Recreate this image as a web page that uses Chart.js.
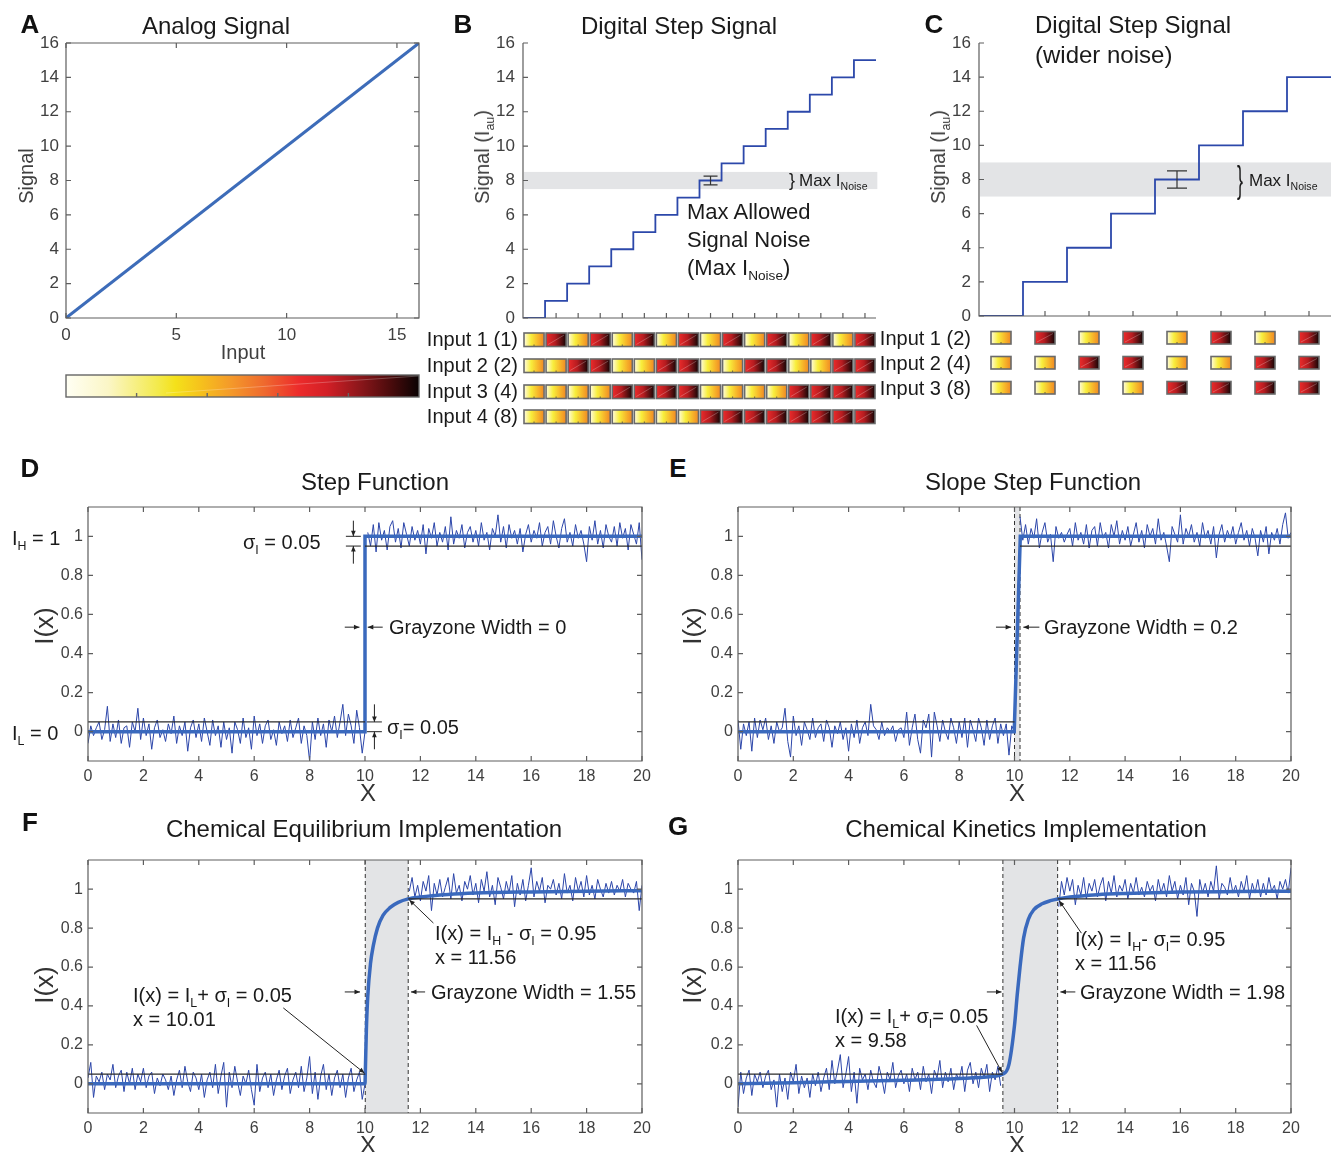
<!DOCTYPE html>
<html>
<head>
<meta charset="utf-8">
<script src="https://cdn.jsdelivr.net/npm/chart.js@4.4.1/dist/chart.umd.min.js"></script>
<style>
body { margin: 0; background: #fff; }
#fig { position: relative; width: 1331px; height: 1152px; overflow: hidden; font-family: "Liberation Sans", Arial, sans-serif; color: #1a1a1a; }
#fig canvas { position: absolute; }
.t { position: absolute; white-space: nowrap; line-height: 1; }
.t sub { font-size: 0.62em; vertical-align: -0.38em; line-height: 0; }
.lt { font-weight: bold; font-size: 26px; color: #111; }
.ttl { font-size: 24px; }
.ax { font-size: 20px; color: #404040; }
.axb { font-size: 26px; color: #333; }
.xl { font-size: 24px; color: #333; }
.ann { font-size: 20px; }
.big { font-size: 22px; }
.sm { font-size: 17px; }
.inp { font-size: 20px; }
.brace { font-size: 18px; font-weight: 300; }
</style>
</head>
<body>
<div id="fig"></div>
<script>
// ---------- data ----------
// A: analog response
const analogX = [0, 16];
const analogY = [0, 16];
const colorbarTicks = [3.2, 6.4, 9.6, 12.8];
const cmapStops = [[0, '#fffff4'], [0.12, '#fbf6c6'], [0.26, '#f3ea4c'], [0.31, '#f4e11a'], [0.38, '#f6c21c'],
  [0.47, '#f4982a'], [0.56, '#ef6a2e'], [0.66, '#ec2b2b'], [0.74, '#d21f26'], [0.83, '#8e171b'], [0.92, '#4a0b0c'], [1, '#0a0303']];

// B: digital step signal, 16 levels
const stepBX = [0, 1, 2, 3, 4, 5, 6, 7, 8, 9, 10, 11, 12, 13, 14, 15, 16];
const stepBY = [0, 1, 2, 3, 4, 5, 6, 7, 8, 9, 10, 11, 12, 13, 14, 15, 15];
const xTicksB = [1.5, 2.5, 3.5, 4.5, 5.5, 6.5, 7.5, 8.5, 9.5, 10.5, 11.5, 12.5, 13.5, 14.5, 15.5];
const noiseBandB = [7.5, 8.5];
const errBarB = [8.5, 7.75, 8.25];
const inputsB = ['Input 1 (1)', 'Input 2 (2)', 'Input 3 (4)', 'Input 4 (8)'];
const bitsB = [
  [0, 1, 0, 1, 0, 1, 0, 1, 0, 1, 0, 1, 0, 1, 0, 1],
  [0, 0, 1, 1, 0, 0, 1, 1, 0, 0, 1, 1, 0, 0, 1, 1],
  [0, 0, 0, 0, 1, 1, 1, 1, 0, 0, 0, 0, 1, 1, 1, 1],
  [0, 0, 0, 0, 0, 0, 0, 0, 1, 1, 1, 1, 1, 1, 1, 1]
];

// C: digital step signal with wider noise, 8 levels
const stepCX = [0, 2, 4, 6, 8, 10, 12, 14, 16];
const stepCY = [0, 2, 4, 6, 8, 10, 12, 14, 14];
const xTicksC = [3, 5, 7, 9, 11, 13, 15];
const noiseBandC = [7, 9];
const errBarC = [9, 7.5, 8.5];
const inputsC = ['Input 1 (2)', 'Input 2 (4)', 'Input 3 (8)'];
const bitsC = [
  [0, 1, 0, 1, 0, 1, 0, 1],
  [0, 0, 1, 1, 0, 0, 1, 1],
  [0, 0, 0, 0, 1, 1, 1, 1]
];
const squareCentersC = [1, 3, 5, 7, 9, 11, 13, 15];

// shared ticks
const yTicks16 = [0, 2, 4, 6, 8, 10, 12, 14, 16];
const xTicksA = [0, 5, 10, 15];
const xTicks20 = [0, 2, 4, 6, 8, 10, 12, 14, 16, 18, 20];
const yTicks01 = [0, 0.2, 0.4, 0.6, 0.8, 1];

// D-G: ideal / fitted curves
const stepDX = [0, 10, 10, 20];
const stepDY = [0, 0, 1, 1];
const slopeEX = [0, 9.99, 10.21, 20];
const slopeEY = [0, 0, 1, 1];
const equilFX = [0, 10, 10.01, 10.05, 10.1, 10.2, 10.3, 10.45, 10.65, 10.9, 11.2, 11.56, 12, 13, 14, 16, 18, 20];
const equilFY = [0, 0, 0.05, 0.28, 0.45, 0.62, 0.71, 0.8, 0.865, 0.905, 0.932, 0.95, 0.96, 0.973, 0.98, 0.986, 0.99, 0.992];
const kinetGX = [0, 2, 4, 6, 8, 9, 9.58, 9.8, 10, 10.1, 10.2, 10.33, 10.5, 10.7, 11, 11.3, 11.56, 12, 13, 14, 16, 18, 20];
const kinetGY = [0, 0.006, 0.012, 0.018, 0.027, 0.035, 0.05, 0.1, 0.3, 0.46, 0.6, 0.75, 0.845, 0.895, 0.925, 0.941, 0.95, 0.96, 0.972, 0.978, 0.985, 0.988, 0.99];

// sigma lines (I_L + sigma, I_H - sigma) and grayzones
const lowLineD = [0, 10], highLineD = [10, 20];
const lowLineE = [0, 10], highLineE = [10.2, 20], zoneE = [10, 10.2];
const lowLineF = [0, 10.01], highLineF = [11.56, 20], zoneF = [10.01, 11.56];
const lowLineG = [0, 9.58], highLineG = [11.56, 20], zoneG = [9.58, 11.56];

// noisy samples, x step 0.1
const noiseDLow = [
  -0.06, 0.03, -0.02, 0.02, 0.05, -0.04, 0.01, 0.13, -0.05, 0.04,
  -0.03, 0.06, -0.06, 0.02, 0.03, -0.08, 0.05, 0.00, 0.12, -0.04,
  0.07, -0.02, 0.04, -0.09, 0.02, 0.06, -0.03, 0.01, -0.05, 0.04,
  -0.01, 0.08, -0.06, 0.03, -0.02, 0.05, -0.10, 0.02, 0.06, -0.03,
  0.04, -0.05, 0.07, 0.00, -0.07, 0.06, -0.02, 0.03, -0.08, 0.05,
  -0.04, 0.02, -0.11, 0.05, 0.01, -0.06, 0.07, -0.03, 0.02, -0.09,
  0.08, -0.02, 0.04, -0.06, 0.03, 0.06, -0.04, 0.01, -0.07, 0.05,
  -0.01, 0.03, -0.05, 0.06, -0.03, 0.02, 0.07, -0.06, 0.03, -0.02,
  -0.15, 0.05, -0.04, 0.07, -0.02, 0.04, -0.08, 0.06, 0.00, 0.08,
  -0.03, 0.05, 0.14, -0.02, 0.09, 0.03, -0.06, 0.11, 0.02, -0.11,
  0.00];
const noiseDHigh = [
  1.02, 0.95, 1.06, 0.92, 1.07, 0.98, 1.03, 0.93, 1.05,
  1.08, 0.97, 1.04, 0.94, 1.07, 1.01, 0.95, 1.05, 0.98, 1.03,
  0.96, 1.06, 0.91, 1.04, 0.99, 1.07, 0.95, 1.02, 0.97, 1.05,
  0.93, 1.10, 0.96, 1.03, 0.99, 1.06, 0.94, 1.02, 1.05, 0.97,
  1.03, 0.95, 1.07, 0.98, 1.02, 0.93, 1.04, 1.00, 1.11, 0.97,
  1.05, 0.94, 1.06, 0.99, 1.03, 0.96, 1.04, 0.92, 1.01, 1.06,
  0.97, 1.03, 0.99, 1.07, 0.95, 1.02, 1.05, 0.96, 1.08, 1.00,
  0.94, 1.04, 1.09, 0.97, 1.02, 0.95, 1.06, 0.99, 1.03, 0.96,
  0.87, 1.05, 0.98, 1.08, 0.96, 1.03, 0.94, 1.06, 1.00, 0.97,
  1.05, 0.95, 1.07, 0.99, 1.04, 0.93, 1.06, 1.01, 0.96, 1.07,
  0.88];
const noiseELow = [
  0.06, -0.09, 0.04, -0.02, 0.05, -0.10, 0.07, -0.03, 0.06, 0.01,
  0.07, -0.04, 0.03, -0.06, 0.05, 0.00, 0.02, 0.12, -0.05, -0.13,
  0.08, -0.02, 0.03, -0.07, 0.05, 0.01, -0.04, 0.07, -0.03, 0.02,
  0.04, -0.05, 0.06, 0.02, -0.08, 0.03, -0.01, 0.05, -0.04, 0.02,
  -0.10, 0.04, -0.03, 0.06, -0.06, 0.02, 0.05, -0.02, 0.14, 0.03,
  0.01, -0.04, 0.05, -0.02, 0.02, 0.00, 0.03, -0.05, 0.01, 0.02,
  -0.03, 0.10, -0.07, 0.02, 0.09, -0.04, -0.11, 0.06, 0.02, 0.09,
  -0.13, 0.10, 0.03, -0.05, 0.06, 0.00, -0.04, 0.07, 0.02, -0.06,
  0.05, -0.03, 0.07, -0.08, 0.06, 0.01, -0.05, 0.07, 0.02, -0.07,
  0.06, -0.04, 0.03, 0.07, -0.06, 0.04, -0.02, 0.04, -0.12, 0.03,
  0.00];
const noiseEHigh = [
  1.10, 0.98, 1.06, 0.96, 1.04, 0.99, 1.09, 0.94,
  1.02, 1.07, 0.97, 1.01, 0.87, 1.05, 0.99, 1.02, 0.97, 1.01,
  1.04, 0.95, 1.07, 0.98, 1.02, 0.96, 1.06, 0.94, 1.03, 1.05,
  0.95, 1.07, 0.99, 1.02, 0.94, 1.06, 1.00, 1.08, 0.96, 1.03,
  0.98, 1.05, 0.95, 1.01, 1.07, 0.97, 1.03, 0.94, 1.06, 1.00,
  1.04, 0.96, 1.09, 0.98, 1.02, 0.95, 0.87, 1.05, 1.01, 0.97,
  1.11, 0.96, 1.04, 1.00, 1.06, 0.97, 1.02, 0.95, 1.07, 0.99,
  1.03, 0.96, 1.05, 0.89, 1.01, 1.06, 0.97, 1.03, 0.99, 1.05,
  0.96, 1.02, 1.07, 0.98, 1.03, 0.95, 1.04, 0.99, 0.90, 1.03,
  0.97, 1.05, 0.91, 1.02, 0.98, 1.04, 0.96, 1.06, 1.12, 0.99,
  1.02];
const noiseFLow = [
  0.03, 0.11, -0.07, 0.04, 0.01, 0.06, -0.03, 0.05, 0.02, 0.10,
  -0.02, 0.04, 0.07, -0.04, 0.06, 0.00, 0.08, -0.03, 0.05, 0.01,
  0.08, -0.02, 0.04, 0.06, -0.05, 0.03, -0.01, 0.05, 0.02, -0.03,
  0.04, -0.06, 0.02, 0.07, -0.02, 0.09, 0.01, -0.04, 0.06, 0.03,
  -0.03, 0.05, -0.07, 0.02, 0.06, -0.02, 0.10, -0.05, 0.04, 0.11,
  -0.12, 0.06, -0.02, 0.09, 0.01, -0.06, 0.04, 0.00, 0.07, -0.03,
  -0.11, 0.10, -0.04, 0.03, 0.06, -0.02, 0.05, -0.06, 0.02, 0.07,
  -0.03, 0.04, 0.08, -0.05, 0.02, 0.06, -0.02, 0.09, -0.04, 0.03,
  0.14, -0.05, 0.06, -0.08, 0.04, 0.10, -0.03, 0.05, -0.06, 0.03,
  0.07, -0.02, 0.05, -0.07, 0.03, 0.08, -0.04, 0.02, 0.06, -0.08,
  0.00];
const noiseFHigh = [
  0.99, 1.06, 0.96, 1.02,
  0.94, 1.04, 0.99, 1.07, 0.89, 1.03, 0.97, 1.05, 0.96, 1.01,
  1.06, 0.95, 1.08, 0.98, 1.02, 0.94, 1.04, 1.00, 1.07, 0.97,
  1.03, 0.93, 1.05, 0.99, 1.09, 0.96, 1.02, 0.92, 1.06, 1.01,
  0.95, 1.04, 0.98, 1.07, 0.91, 1.03, 0.97, 1.05, 0.94, 1.02,
  1.11, 0.96, 1.04, 0.99, 1.06, 0.93, 1.02, 1.00, 1.05, 0.97,
  1.03, 0.95, 1.08, 0.98, 1.02, 0.94, 1.06, 0.99, 1.04, 0.96,
  1.07, 0.97, 1.02, 0.95, 1.05, 1.00, 0.96, 1.03, 0.98, 1.04,
  0.97, 1.02, 0.99, 1.05, 0.96, 1.03, 1.00, 0.98, 1.04, 0.89,
  1.02];
const noiseGLow = [
  -0.12, 0.06, -0.05, 0.03, 0.07, -0.06, 0.05, 0.01, 0.06, -0.02,
  0.04, 0.07, -0.03, 0.02, -0.12, 0.05, -0.04, 0.03, -0.08, 0.06,
  0.01, 0.10, -0.05, 0.04, -0.02, 0.03, -0.07, 0.05, -0.01, 0.06,
  -0.04, 0.03, 0.08, -0.03, 0.12, 0.00, 0.07, 0.15, -0.02, 0.05,
  0.14, -0.04, 0.06, -0.10, 0.08, 0.02, 0.05, -0.03, 0.07, 0.01,
  -0.02, 0.09, 0.03, -0.05, 0.06, 0.02, 0.11, -0.02, 0.04, 0.07,
  0.00, 0.05, -0.04, 0.08, 0.02, 0.06, -0.03, 0.09, 0.01, 0.05,
  -0.05, 0.07, 0.03, 0.12, -0.02, 0.06, 0.01, 0.08, -0.03, 0.05,
  0.02, 0.09, -0.04, 0.07, 0.11, 0.00, 0.06, -0.02, 0.08, 0.03,
  0.10, -0.04, 0.06, 0.02, 0.09, -0.01];
const noiseGHigh = [
  0.91, 1.04, 0.97, 1.06,
  0.99, 1.05, 0.92, 1.02, 0.97, 1.06, 0.95, 1.03, 0.99, 1.05,
  0.96, 1.02, 1.06, 0.94, 1.04, 0.98, 1.07, 0.96, 1.02, 0.99,
  1.05, 0.95, 1.03, 0.98, 1.06, 0.97, 1.01, 0.96, 1.04, 0.99,
  1.02, 0.94, 1.05, 0.98, 1.03, 0.96, 1.07, 0.99, 1.04, 0.95,
  1.02, 0.97, 1.06, 0.92, 1.03, 0.99, 0.86, 1.05, 0.98, 1.03,
  0.96, 1.04, 0.99, 1.12, 0.95, 1.03, 1.01, 0.97, 1.06, 0.98,
  1.02, 0.96, 1.04, 0.99, 1.07, 0.95, 1.03, 0.98, 1.05, 0.96,
  1.03, 0.97, 1.06, 0.99, 1.02, 0.95, 1.04, 1.00, 1.05, 0.98,
  1.11];

// ---------- helpers ----------
const FONT = '"Liberation Sans", Arial, sans-serif';
const BLUE = '#3a69bd', NOISE = '#2b45a9', STEP = '#2c48aa', AXIS = '#5e5e5e';
const fig = document.getElementById('fig');

function xy(xs, ys) {
    return xs.map((x, i) => ({ x: x, y: ys[i] }));
}

function sampled(start, vals) {
    return vals.map((v, i) => ({ x: +(start + i * 0.1).toFixed(2), y: v }));
}

function flat(range, level) {
    return [{ x: range[0], y: level }, { x: range[1], y: level }];
}

function line(data, color, width, extra) {
    return Object.assign({ data: data, borderColor: color, borderWidth: width, pointRadius: 0, fill: false, tension: 0 }, extra || {});
}

function put(x, y, html, cls, anchor, rot) {
    const d = document.createElement('div');
    d.className = 't ' + cls;
    d.innerHTML = html;
    d.style.left = x + 'px';
    d.style.top = y + 'px';
    const tx = anchor === 'c' ? '-50%' : anchor === 'r' ? '-100%' : '0';
    d.style.transform = 'translate(' + tx + ',-50%)' + (rot ? ' rotate(-90deg)' : '');
    fig.appendChild(d);
    return d;
}

function axis(min, max, ticks, size, show, fontSize, pad) {
    return {
        type: 'linear', min: min, max: max,
        afterBuildTicks: (s) => { s.ticks = ticks.map(v => ({ value: v })); },
        afterFit: (s) => { if (s.isHorizontal()) s.height = size; else s.width = size; },
        grid: { display: false, drawTicks: false },
        border: { display: false },
        ticks: {
            display: show, autoSkip: false, maxRotation: 0, padding: pad,
            color: '#404040', font: { family: FONT, size: fontSize },
            callback: (v) => String(v)
        }
    };
}

function arrowHead(ctx, x0, y0, x1, y1, len) {
    const ang = Math.atan2(y1 - y0, x1 - x0);
    ctx.beginPath();
    ctx.moveTo(x1, y1);
    ctx.lineTo(x1 - len * Math.cos(ang - 0.4), y1 - len * Math.sin(ang - 0.4));
    ctx.lineTo(x1 - len * Math.cos(ang + 0.4), y1 - len * Math.sin(ang + 0.4));
    ctx.closePath();
    ctx.fill();
}

function drawSquare(ctx, x0, y0, w, h, dark) {
    const g = ctx.createLinearGradient(x0, 0, x0 + w, 0);
    if (dark) {
        g.addColorStop(0, '#ee2b2b'); g.addColorStop(0.45, '#b61c20'); g.addColorStop(1, '#140505');
    } else {
        g.addColorStop(0, '#fffbe2'); g.addColorStop(0.35, '#f8ee3c'); g.addColorStop(0.7, '#f7b62a'); g.addColorStop(1, '#f08824');
    }
    ctx.fillStyle = g;
    ctx.fillRect(x0, y0, w, h);
    ctx.lineWidth = 0.7;
    if (dark) {
        ctx.strokeStyle = 'rgba(255,255,255,0.35)';
        ctx.beginPath(); ctx.moveTo(x0 + 2, y0 + h - 2); ctx.lineTo(x0 + w - 2, y0 + 2); ctx.stroke();
    } else {
        ctx.strokeStyle = '#333';
        ctx.beginPath(); ctx.moveTo(x0 + w / 2, y0 + h); ctx.lineTo(x0 + w / 2, y0 + h - 2); ctx.stroke();
    }
    ctx.strokeStyle = '#6a6a6a';
    ctx.lineWidth = 1.6;
    ctx.strokeRect(x0, y0, w, h);
}

// per-panel decorations drawn through the chart scales
function decor(cfg) {
    return {
        id: 'decor',
        beforeDatasetsDraw(chart) {
            const { ctx, chartArea: a, scales: { x, y } } = chart;
            ctx.save();
            if (cfg.band) {
                const top = y.getPixelForValue(cfg.band[1]), bot = y.getPixelForValue(cfg.band[0]);
                ctx.fillStyle = '#e3e4e6';
                ctx.fillRect(a.left + 1, top, x.getPixelForValue(cfg.bandEnd) - a.left - 1, bot - top);
            }
            if (cfg.zone) {
                const p0 = x.getPixelForValue(cfg.zone[0]), p1 = x.getPixelForValue(cfg.zone[1]);
                ctx.fillStyle = '#e3e4e6';
                ctx.fillRect(p0, a.top, p1 - p0, a.bottom - a.top);
                ctx.strokeStyle = '#333';
                ctx.lineWidth = 1;
                ctx.setLineDash([4, 3]);
                [p0, p1].forEach(p => {
                    ctx.beginPath(); ctx.moveTo(p, a.top); ctx.lineTo(p, a.bottom); ctx.stroke();
                });
                ctx.setLineDash([]);
            }
            ctx.restore();
        },
        afterDatasetsDraw(chart) {
            const { ctx, chartArea: a, scales: { x, y } } = chart;
            const tl = cfg.tickLen || 5;
            ctx.save();
            // axes, MATLAB style inward ticks
            ctx.strokeStyle = AXIS;
            ctx.lineWidth = 1.2;
            ctx.beginPath();
            ctx.moveTo(a.left, a.top); ctx.lineTo(a.left, a.bottom); ctx.lineTo(a.right, a.bottom);
            if (cfg.box) { ctx.lineTo(a.right, a.top); ctx.lineTo(a.left, a.top); }
            ctx.stroke();
            ctx.beginPath();
            x.ticks.forEach(t => {
                const p = x.getPixelForValue(t.value);
                ctx.moveTo(p, a.bottom); ctx.lineTo(p, a.bottom - tl);
                if (cfg.box) { ctx.moveTo(p, a.top); ctx.lineTo(p, a.top + tl); }
            });
            y.ticks.forEach(t => {
                const p = y.getPixelForValue(t.value);
                ctx.moveTo(a.left, p); ctx.lineTo(a.left + tl, p);
                if (cfg.box) { ctx.moveTo(a.right, p); ctx.lineTo(a.right - tl, p); }
            });
            ctx.stroke();
            // error bar
            if (cfg.err) {
                const [ex, lo, hi] = cfg.err;
                const px = x.getPixelForValue(ex), p0 = y.getPixelForValue(lo), p1 = y.getPixelForValue(hi);
                ctx.strokeStyle = '#333';
                ctx.lineWidth = 1.2;
                ctx.beginPath();
                ctx.moveTo(px, p0); ctx.lineTo(px, p1);
                ctx.moveTo(px - cfg.cap, p0); ctx.lineTo(px + cfg.cap, p0);
                ctx.moveTo(px - cfg.cap, p1); ctx.lineTo(px + cfg.cap, p1);
                ctx.stroke();
            }
            // short reference marks
            ctx.strokeStyle = '#222';
            ctx.fillStyle = '#222';
            ctx.lineWidth = 1;
            (cfg.marks || []).forEach(m => {
                ctx.beginPath();
                ctx.moveTo(x.getPixelForValue(m[0]), y.getPixelForValue(m[2]));
                ctx.lineTo(x.getPixelForValue(m[1]), y.getPixelForValue(m[2]));
                ctx.stroke();
            });
            // arrows [x0, y0, x1, y1]
            (cfg.arrows || []).forEach(r => {
                const X0 = x.getPixelForValue(r[0]), Y0 = y.getPixelForValue(r[1]);
                const X1 = x.getPixelForValue(r[2]), Y1 = y.getPixelForValue(r[3]);
                ctx.beginPath(); ctx.moveTo(X0, Y0); ctx.lineTo(X1, Y1); ctx.stroke();
                arrowHead(ctx, X0, Y0, X1, Y1, 6);
            });
            ctx.restore();
        },
        afterDraw(chart) {
            const { ctx, chartArea: a, scales: { x } } = chart;
            ctx.save();
            if (cfg.colorbar) {
                const x0 = x.getPixelForValue(x.min), x1 = x.getPixelForValue(x.max);
                const top = a.bottom + 57, h = 22;
                const g = ctx.createLinearGradient(x0, 0, x1, 0);
                cmapStops.forEach(s => g.addColorStop(s[0], s[1]));
                ctx.fillStyle = g;
                ctx.fillRect(x0, top, x1 - x0, h);
                ctx.strokeStyle = 'rgba(255,255,255,0.35)';
                ctx.lineWidth = 0.7;
                ctx.beginPath(); ctx.moveTo(x0 + 100, top + h - 4); ctx.lineTo(x1, top + 1); ctx.stroke();
                ctx.strokeStyle = '#666';
                ctx.lineWidth = 1.4;
                ctx.strokeRect(x0, top, x1 - x0, h);
                ctx.beginPath();
                colorbarTicks.forEach(v => {
                    const p = x.getPixelForValue(v);
                    ctx.moveTo(p, top + h); ctx.lineTo(p, top + h - 4);
                });
                ctx.stroke();
            }
            if (cfg.squares) {
                const sq = cfg.squares;
                sq.bits.forEach((row, r) => {
                    row.forEach((b, i) => {
                        const c = sq.centers[i];
                        const p0 = x.getPixelForValue(c - sq.half) + 1, p1 = x.getPixelForValue(c + sq.half) - 1;
                        drawSquare(ctx, p0, a.bottom + sq.top[r], p1 - p0, sq.h, b === 1);
                    });
                });
            }
            ctx.restore();
        }
    };
}

function panel(id, box, xAxis, yAxis, datasets, cfg) {
    const c = document.createElement('canvas');
    const padT = 24;
    const w = box.yW + box.w + box.padR;
    const h = padT + box.h + box.xH;
    c.width = w; c.height = h;
    c.style.left = (box.L - box.yW) + 'px';
    c.style.top = (box.T - padT) + 'px';
    c.style.width = w + 'px'; c.style.height = h + 'px';
    c.id = id;
    fig.appendChild(c);
    return new Chart(c.getContext('2d'), {
        type: 'line',
        data: { datasets: datasets },
        options: {
            responsive: false, animation: false, devicePixelRatio: 1,
            layout: { padding: { top: padT, right: box.padR, left: 0, bottom: 0 } },
            plugins: { legend: { display: false }, tooltip: { enabled: false } },
            scales: { x: xAxis, y: yAxis }
        },
        plugins: [decor(cfg)]
    });
}

function sigmaPanel(id, box, curve, low, high, noiseLow, noiseHighStart, noiseHigh, cfg) {
    return panel(id, box,
        axis(0, 20, xTicks20, 28, true, 16, 6),
        axis(-0.15, 1.15, yTicks01, 50, true, 16, 5),
        [
            line(flat(low, 0.05), '#2a2a2a', 1.3),
            line(flat(high, 0.95), '#2a2a2a', 1.3),
            line(curve, BLUE, 3.5, cfg.smooth ? { cubicInterpolationMode: 'monotone' } : {}),
            line(sampled(0, noiseLow), NOISE, 1),
            line(sampled(noiseHighStart, noiseHigh), NOISE, 1)
        ],
        Object.assign({ box: true }, cfg));
}

// ---------- A ----------
panel('chartA', { L: 66, T: 43, w: 353, h: 275, yW: 50, xH: 85, padR: 20 },
    axis(0, 16, xTicksA, 85, true, 17, 7),
    axis(0, 16, yTicks16, 50, true, 17, 7),
    [line(xy(analogX, analogY), '#3d6cb9', 3)],
    { box: true, colorbar: true });

// ---------- B ----------
panel('chartB', { L: 523, T: 43, w: 353, h: 275, yW: 44, xH: 110, padR: 8 },
    axis(0, 16, xTicksB, 110, false, 17, 7),
    axis(0, 16, yTicks16, 44, true, 17, 8),
    [line(xy(stepBX, stepBY), STEP, 1.8, { stepped: 'before' })],
    {
        box: false, band: noiseBandB, bandEnd: 16.06, err: errBarB, cap: 7,
        squares: { bits: bitsB, centers: stepBX.slice(0, 16).map(v => v + 0.5), half: 0.5, top: [15, 41, 67, 92], h: 13.5 }
    });

// ---------- C ----------
panel('chartC', { L: 979, T: 43, w: 352, h: 273, yW: 44, xH: 82, padR: 0 },
    axis(0, 16, xTicksC, 82, false, 17, 7),
    axis(0, 16, yTicks16, 44, true, 17, 8),
    [line(xy(stepCX, stepCY), STEP, 1.8, { stepped: 'before' })],
    {
        box: false, band: noiseBandC, bandEnd: 16, err: errBarC, cap: 10,
        squares: { bits: bitsC, centers: squareCentersC, half: 0.5, top: [15.5, 40.5, 65.5], h: 12.5 }
    });

// ---------- D-G ----------
sigmaPanel('chartD', { L: 88, T: 507, w: 554, h: 254, yW: 50, xH: 28, padR: 20 },
    xy(stepDX, stepDY), lowLineD, highLineD, noiseDLow, 10.1, noiseDHigh,
    {
        marks: [[9.31, 9.85, 1], [9.31, 9.85, 0.95], [10.07, 10.61, 0.05], [10.07, 10.61, 0]],
        arrows: [[9.58, 1.08, 9.58, 1.0], [9.58, 0.86, 9.58, 0.95], [10.34, 0.14, 10.34, 0.05], [10.34, -0.09, 10.34, 0],
                 [9.27, 0.535, 9.8, 0.535], [10.64, 0.535, 10.1, 0.535]]
    });
sigmaPanel('chartE', { L: 738, T: 507, w: 553, h: 254, yW: 50, xH: 28, padR: 20 },
    xy(slopeEX, slopeEY), lowLineE, highLineE, noiseELow, 10.2, noiseEHigh,
    { zone: zoneE, arrows: [[9.33, 0.535, 9.88, 0.535], [10.9, 0.535, 10.32, 0.535]] });
sigmaPanel('chartF', { L: 88, T: 860, w: 554, h: 253, yW: 50, xH: 28, padR: 20 },
    xy(equilFX, equilFY), lowLineF, highLineF, noiseFLow, 11.6, noiseFHigh,
    {
        smooth: true, zone: zoneF,
        arrows: [[9.27, 0.472, 9.82, 0.472], [12.17, 0.472, 11.66, 0.472], [7.05, 0.39, 9.98, 0.055], [12.47, 0.826, 11.6, 0.945]]
    });
sigmaPanel('chartG', { L: 738, T: 860, w: 553, h: 253, yW: 50, xH: 28, padR: 20 },
    xy(kinetGX, kinetGY), lowLineG, highLineG, noiseGLow, 11.6, noiseGHigh,
    {
        smooth: true, zone: zoneG,
        arrows: [[9.0, 0.472, 9.53, 0.472], [12.2, 0.472, 11.66, 0.472], [8.63, 0.3, 9.55, 0.058], [12.42, 0.774, 11.62, 0.94]]
    });

// ---------- text ----------
put(30, 24, 'A', 'lt', 'c');
put(216, 26, 'Analog Signal', 'ttl', 'c');
put(26, 176, 'Signal', 'ax', 'c', true);
put(243, 352, 'Input', 'ax', 'c');

put(463, 24, 'B', 'lt', 'c');
put(679, 26, 'Digital Step Signal', 'ttl', 'c');
put(482, 157, 'Signal (I<sub>au</sub>)', 'ax', 'c', true);
put(789, 180, '}', 'brace', 'l');
put(799, 180, 'Max I<sub>Noise</sub>', 'sm', 'l');
put(687, 212, 'Max Allowed', 'big', 'l');
put(687, 240, 'Signal Noise', 'big', 'l');
put(687, 268, '(Max I<sub>Noise</sub>)', 'big', 'l');
[339, 365, 391, 416].forEach((cy, i) => put(518, cy, inputsB[i], 'inp', 'r'));

put(934, 24, 'C', 'lt', 'c');
put(1035, 25, 'Digital Step Signal', 'ttl', 'l');
put(1035, 55, '(wider noise)', 'ttl', 'l');
put(938, 157, 'Signal (I<sub>au</sub>)', 'ax', 'c', true);
const bc = put(1237, 180, '}', 'brace', 'l');
bc.style.transform = 'translate(0,-50%) scale(1,2)';
put(1249, 180, 'Max I<sub>Noise</sub>', 'sm', 'l');
[338, 363, 388].forEach((cy, i) => put(971, cy, inputsC[i], 'inp', 'r'));

put(30, 468, 'D', 'lt', 'c');
put(375, 482, 'Step Function', 'ttl', 'c');
put(44, 626, 'I(x)', 'axb', 'c', true);
put(368, 793, 'X', 'xl', 'c');
put(12, 538, 'I<sub>H</sub> = 1', 'ann', 'l');
put(12, 733, 'I<sub>L</sub> = 0', 'ann', 'l');
put(243, 542, 'σ<sub>I</sub> = 0.05', 'ann', 'l');
put(387, 727, 'σ<sub>I</sub>= 0.05', 'ann', 'l');
put(389, 627, 'Grayzone Width = 0', 'ann', 'l');

put(678, 468, 'E', 'lt', 'c');
put(1033, 482, 'Slope Step Function', 'ttl', 'c');
put(692, 626, 'I(x)', 'axb', 'c', true);
put(1017, 793, 'X', 'xl', 'c');
put(1044, 627, 'Grayzone Width = 0.2', 'ann', 'l');

put(30, 822, 'F', 'lt', 'c');
put(364, 829, 'Chemical Equilibrium Implementation', 'ttl', 'c');
put(44, 985, 'I(x)', 'axb', 'c', true);
put(368, 1145, 'X', 'xl', 'c');
put(133, 995, 'I(x) = I<sub>L</sub>+ σ<sub>I</sub> = 0.05', 'ann', 'l');
put(133, 1019, 'x = 10.01', 'ann', 'l');
put(435, 933, 'I(x) = I<sub>H</sub> - σ<sub>I</sub> = 0.95', 'ann', 'l');
put(435, 957, 'x = 11.56', 'ann', 'l');
put(431, 992, 'Grayzone Width = 1.55', 'ann', 'l');

put(678, 826, 'G', 'lt', 'c');
put(1026, 829, 'Chemical Kinetics Implementation', 'ttl', 'c');
put(692, 985, 'I(x)', 'axb', 'c', true);
put(1017, 1145, 'X', 'xl', 'c');
put(835, 1016, 'I(x) = I<sub>L</sub>+ σ<sub>I</sub>= 0.05', 'ann', 'l');
put(835, 1040, 'x = 9.58', 'ann', 'l');
put(1075, 939, 'I(x) = I<sub>H</sub>- σ<sub>I</sub>= 0.95', 'ann', 'l');
put(1075, 963, 'x = 11.56', 'ann', 'l');
put(1080, 992, 'Grayzone Width = 1.98', 'ann', 'l');
</script>
</body>
</html>
